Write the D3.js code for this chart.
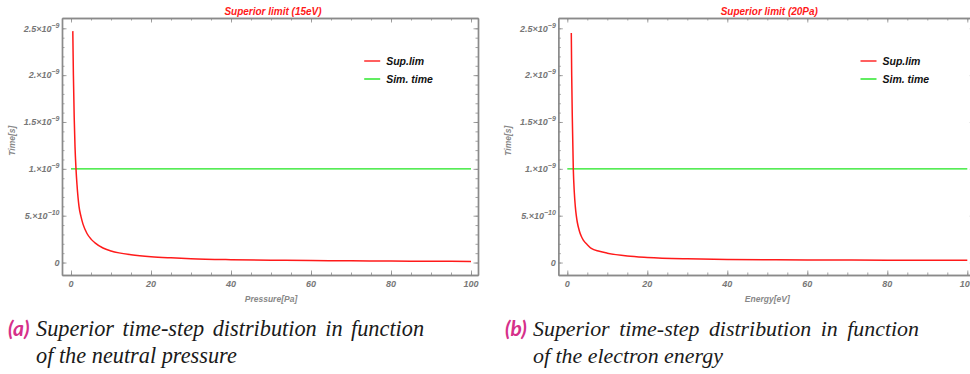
<!DOCTYPE html>
<html>
<head>
<meta charset="utf-8">
<script src="https://cdn.jsdelivr.net/npm/d3@7"></script>
<style>
  body { margin: 0; background: #fff; }
  svg { display: block; }
  .tick text { display: none; }
  .cap { font-family: "Liberation Serif", "DejaVu Serif", serif; font-style: italic; fill: #1a1a1a; }
</style>
</head>
<body>
<div id="container"></div>
<script>
// values (time in seconds)
const pressure = [0.45, 0.6, 0.8, 1, 1.25, 1.5, 2, 2.5, 3, 4, 5, 6, 8, 10, 12, 15, 20, 25, 30, 40, 50, 60, 70, 80, 90, 100];
const supLimPressure = [2.47e-9, 2.0e-9, 1.55e-9, 1.24e-9, 1.0e-9, 0.83e-9, 0.6e-9, 0.49e-9, 0.41e-9, 0.31e-9, 0.25e-9, 0.21e-9, 0.155e-9, 0.124e-9, 0.103e-9, 0.083e-9, 0.062e-9, 0.05e-9, 0.041e-9, 0.031e-9, 0.025e-9, 0.021e-9, 0.018e-9, 0.0155e-9, 0.014e-9, 0.0124e-9];

const energy = [1.0, 1.1, 1.25, 1.5, 1.75, 2, 2.25, 2.5, 3, 3.5, 4, 5, 6, 8, 10, 15, 20, 30, 40, 60, 80, 100];
const supLimEnergy = [2.45e-9, 2.0e-9, 1.55e-9, 1.0e-9, 0.75e-9, 0.6e-9, 0.5e-9, 0.43e-9, 0.34e-9, 0.28e-9, 0.24e-9, 0.19e-9, 0.15e-9, 0.12e-9, 0.10e-9, 0.07e-9, 0.055e-9, 0.04e-9, 0.033e-9, 0.028e-9, 0.025e-9, 0.024e-9];

const simTime = 1e-9;
const simRange = [0, 100];

const xTicks = [0, 20, 40, 60, 80, 100];
const yTicks = [0, 0.5e-9, 1e-9, 1.5e-9, 2e-9, 2.5e-9];
const yTickMant = ["0", "5.", "1.", "1.5", "2.", "2.5"];
const yTickExp = ["", "\u221210", "\u22129", "\u22129", "\u22129", "\u22129"];

const titles = ["Superior limit (15eV)", "Superior limit (20Pa)"];
const xLabels = ["Pressure[Pa]", "Energy[eV]"];
const legendNames = ["Sup.lim", "Sim. time"];
const captionTags = ["(a)", "(b)"];
const captionLine1 = "Superior time-step distribution in function";
const captionLine2 = ["of the neutral pressure", "of the electron energy"];

const W = 970, H = 374;
const svg = d3.select("#container").append("svg")
    .attr("width", W).attr("height", H);

const panels = [
  {left: 62, xs: pressure, ys: supLimPressure, tagX: 8, textX: 36, textEnd: 427, line2W: 201},
  {left: 558.3, xs: energy, ys: supLimEnergy, tagX: 505, textX: 533, textEnd: 923, line2W: 190}
];
const frameTop = 18, frameBottom = 275, frameW = 416;
const red = "#ff1a1a", green = "#1ee61e", gray = "#8a8a8a";

panels.forEach(function(p, i) {
  const x = d3.scaleLinear().domain([-2.25, 101.75]).range([p.left, p.left + frameW]);
  const y = d3.scaleLinear().domain([-0.133e-9, 2.61e-9]).range([frameBottom, frameTop]);
  const g = svg.append("g");

  const minorX = d3.range(0, 101, 5);
  const minorY = d3.range(0, 2.6e-9, 1e-10);

  // minor then major ticks, inward, all four sides
  g.append("g").attr("transform", `translate(0,${frameBottom})`)
    .call(d3.axisBottom(x).tickValues(minorX).tickSize(-2.5).tickSizeOuter(0));
  g.append("g").attr("transform", `translate(0,${frameBottom})`)
    .call(d3.axisBottom(x).tickValues(xTicks).tickSize(-4.5).tickSizeOuter(0));
  g.append("g").attr("transform", `translate(0,${frameTop})`)
    .call(d3.axisTop(x).tickValues(minorX).tickSize(-2.5).tickSizeOuter(0));
  g.append("g").attr("transform", `translate(0,${frameTop})`)
    .call(d3.axisTop(x).tickValues(xTicks).tickSize(-4.5).tickSizeOuter(0));
  g.append("g").attr("transform", `translate(${p.left},0)`)
    .call(d3.axisLeft(y).tickValues(minorY).tickSize(-2.5).tickSizeOuter(0));
  g.append("g").attr("transform", `translate(${p.left},0)`)
    .call(d3.axisLeft(y).tickValues(yTicks).tickSize(-4.5).tickSizeOuter(0));
  g.append("g").attr("transform", `translate(${p.left + frameW},0)`)
    .call(d3.axisRight(y).tickValues(minorY).tickSize(-2.5).tickSizeOuter(0));
  g.append("g").attr("transform", `translate(${p.left + frameW},0)`)
    .call(d3.axisRight(y).tickValues(yTicks).tickSize(-4.5).tickSizeOuter(0));

  g.selectAll(".domain").attr("stroke", gray).attr("stroke-width", 1.4);
  g.selectAll(".tick line").attr("stroke", gray).attr("stroke-width", 0.8);

  // tick labels
  const lab = g.append("g")
    .attr("font-family", "Liberation Sans, Arial, sans-serif")
    .attr("font-style", "italic").attr("font-weight", "bold")
    .attr("fill", "#777");
  lab.selectAll(".xl").data(xTicks).join("text")
    .attr("x", d => x(d)).attr("y", 286.5)
    .attr("text-anchor", "middle").attr("font-size", 9)
    .text(d => d);
  const yl = lab.selectAll(".yl").data(yTicks).join("text")
    .attr("x", p.left - 2.5).attr("y", d => y(d) + 3.2)
    .attr("text-anchor", "end").attr("font-size", 9);
  yl.append("tspan").text((d, j) => yTickMant[j] + (yTickExp[j] ? "\u00d7" : ""));
  yl.filter((d, j) => yTickExp[j]).append("tspan").text("10");
  yl.filter((d, j) => yTickExp[j]).append("tspan")
    .attr("dy", -4).attr("font-size", 7)
    .text(function(d) { return yTickExp[yTicks.indexOf(d)]; });

  lab.append("text")
    .attr("x", x(50)).attr("y", 302)
    .attr("text-anchor", "middle").attr("font-size", 8.5).attr("fill", "#888")
    .text(xLabels[i]);
  lab.append("text")
    .attr("transform", `translate(${p.left - 47},${y(1.3e-9)}) rotate(-90)`)
    .attr("text-anchor", "middle").attr("font-size", 8.5).attr("fill", "#888")
    .text("Time[s]");

  // title
  g.append("text")
    .attr("x", p.left + frameW / 2 + 3).attr("y", 15)
    .attr("text-anchor", "middle")
    .attr("font-family", "Liberation Sans, Arial, sans-serif")
    .attr("font-style", "italic").attr("font-weight", "bold")
    .attr("font-size", 10).attr("fill", red)
    .text(titles[i]);

  // series
  g.append("line")
    .attr("x1", x(simRange[0])).attr("x2", x(simRange[1]))
    .attr("y1", y(simTime)).attr("y2", y(simTime))
    .attr("stroke", green).attr("stroke-width", 1.3);
  const line = d3.line().x((d, j) => x(p.xs[j])).y(d => y(d)).curve(d3.curveMonotoneX);
  g.append("path").datum(p.ys)
    .attr("d", line)
    .attr("fill", "none").attr("stroke", red).attr("stroke-width", 1.5);

  // legend
  const lx = x(73.3);
  const leg = g.append("g")
    .attr("font-family", "Liberation Sans, Arial, sans-serif")
    .attr("font-style", "italic").attr("font-weight", "bold").attr("font-size", 10.5);
  [red, green].forEach(function(c, k) {
    const ly = 61 + k * 18;
    leg.append("line").attr("x1", lx).attr("x2", lx + 16).attr("y1", ly).attr("y2", ly)
      .attr("stroke", c).attr("stroke-width", 1.4);
    leg.append("text").attr("x", lx + 22).attr("y", ly + 3.8).attr("fill", "#111")
      .text(legendNames[k]);
  });

  // caption
  const cap = svg.append("g");
  cap.append("text")
    .attr("x", p.tagX).attr("y", 336)
    .attr("font-family", "Lato, 'Open Sans', sans-serif")
    .attr("font-style", "italic").attr("font-weight", "bold")
    .attr("font-size", 21).attr("fill", "#d6308a")
    .text(captionTags[i]);
  const l2 = cap.append("text").attr("class", "cap")
    .attr("x", p.textX).attr("y", 362.5)
    .attr("font-size", 20)
    .text(captionLine2[i]);
  // size the serif text so the second line has the reference width
  const fs = 20 * p.line2W / l2.node().getComputedTextLength();
  l2.attr("font-size", fs);
  const l1 = cap.append("text").attr("class", "cap")
    .attr("x", p.textX).attr("y", 336)
    .attr("font-size", fs)
    .text(captionLine1);
  // justify the first line to the column width
  const natural = l1.node().getComputedTextLength();
  l1.attr("word-spacing", (p.textEnd - p.textX - natural) / 5);
});
</script>
</body>
</html>
